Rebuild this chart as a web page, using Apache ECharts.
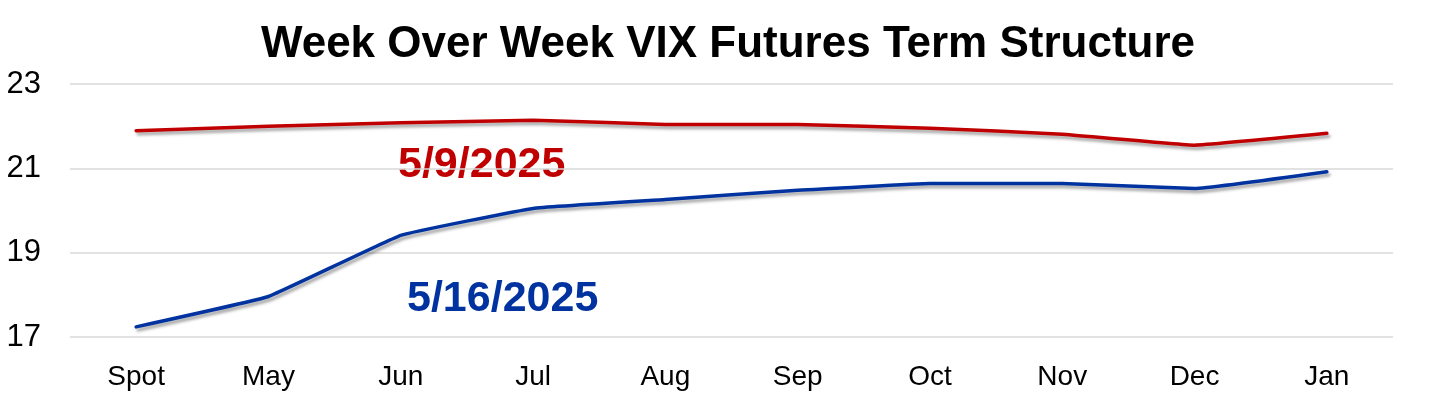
<!DOCTYPE html>
<html>
    <head>
        <meta charset="UTF-8" />
        <script src="https://cdn.jsdelivr.net/npm/echarts@6/dist/echarts.min.js"></script>
        <style>
            html, body { margin: 0; padding: 0; background: #fff; }
        </style>
    </head>

    <body>
        <div id="main" style="width: 1456px; height: 397px"></div>
        <script type="text/javascript">
            var months = ['Spot', 'May', 'Jun', 'Jul', 'Aug', 'Sep', 'Oct', 'Nov', 'Dec', 'Jan'];
            // 5/9/2025 curve
            var may9 = [21.89, 22.00, 22.08, 22.14, 22.04, 22.04, 21.95, 21.81, 21.55, 21.83];
            // 5/16/2025 curve
            var may16 = [17.24, 17.96, 19.41, 20.05, 20.26, 20.48, 20.64, 20.64, 20.52, 20.92];
            var yTicks = [17, 19, 21, 23];

            var font = 'Liberation Sans, Arial, sans-serif';
            var red = '#C00000';
            var blue = '#0033A0';

            var myChart = echarts.init(document.getElementById('main'));

            function lineSeries(name, data, color) {
                return {
                    name: name,
                    type: 'line',
                    data: data,
                    smooth: 0.08,
                    symbol: 'none',
                    lineStyle: {
                        color: color,
                        width: 3.5,
                        cap: 'round',
                        shadowColor: 'rgba(0,0,0,0.35)',
                        shadowBlur: 3,
                        shadowOffsetX: 2,
                        shadowOffsetY: 3
                    }
                };
            }

            var option = {
                backgroundColor: '#fff',
                animation: false,
                title: {
                    text: 'Week Over Week VIX Futures Term Structure',
                    left: 'center',
                    top: 18,
                    textStyle: {
                        fontFamily: font,
                        fontSize: 44,
                        fontWeight: 'bold',
                        color: '#000'
                    }
                },
                grid: {
                    left: 70,
                    right: 63,
                    top: 84,
                    bottom: 60
                },
                xAxis: {
                    type: 'category',
                    data: months,
                    boundaryGap: true,
                    axisLine: { show: false },
                    axisTick: { show: false },
                    axisLabel: {
                        margin: 26,
                        fontFamily: font,
                        fontSize: 28,
                        color: '#000'
                    }
                },
                yAxis: {
                    type: 'value',
                    min: yTicks[0],
                    max: yTicks[yTicks.length - 1],
                    interval: 2,
                    axisLine: { show: false },
                    axisTick: { show: false },
                    axisLabel: {
                        margin: 29,
                        fontFamily: font,
                        fontSize: 31,
                        color: '#000'
                    },
                    splitLine: {
                        lineStyle: { color: '#d9d9d9', width: 1.5 }
                    }
                },
                graphic: [
                    {
                        type: 'text',
                        left: 398,
                        top: 144,
                        style: {
                            text: '5/9/2025',
                            fontFamily: font,
                            fontSize: 43,
                            fontWeight: 'bold',
                            fill: red
                        }
                    },
                    {
                        type: 'text',
                        left: 407,
                        top: 278,
                        style: {
                            text: '5/16/2025',
                            fontFamily: font,
                            fontSize: 43,
                            fontWeight: 'bold',
                            fill: blue
                        }
                    }
                ],
                series: [
                    lineSeries('5/9/2025', may9, red),
                    lineSeries('5/16/2025', may16, blue)
                ]
            };

            option && myChart.setOption(option);
        </script>
    </body>
</html>
